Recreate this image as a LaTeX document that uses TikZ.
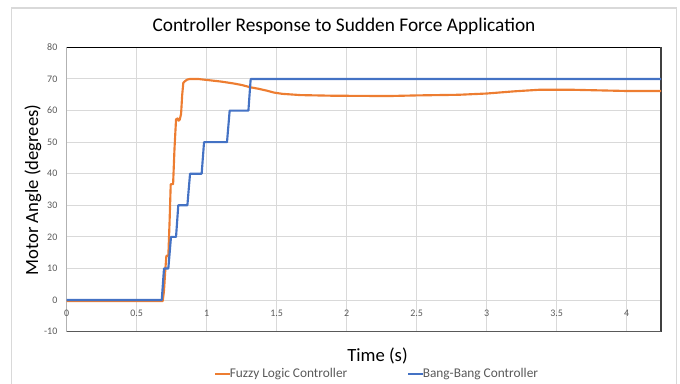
\documentclass[tikz,border=0pt]{standalone}
\usepackage{fontspec}
\setmainfont{Carlito}
\usepackage{tikz}
\definecolor{fuzzyorange}{HTML}{ED7D31}
\definecolor{bangblue}{HTML}{4472C4}
\definecolor{gridgray}{HTML}{D9D9D9}
\definecolor{ticktext}{HTML}{595959}
\definecolor{framegray}{HTML}{D9D9D9}

\begin{document}
\begin{tikzpicture}[x=0.75pt,y=-0.75pt,
  ticklabel/.style={font=\fontsize{7.5}{8}\selectfont,text=ticktext,inner sep=0pt},
  axistitle/.style={font=\fontsize{14}{16}\selectfont,inner sep=0pt},
  legendtext/.style={font=\fontsize{10}{12}\selectfont,text=ticktext,inner sep=0pt,anchor=west},
  fuzzyline/.style={fuzzyorange,line width=1.6pt,line join=round},
  bangline/.style={bangblue,line width=1.6pt,line join=round}]
\useasboundingbox (0,0) rectangle (680,383);
\draw [framegray,line width=0.8pt] (11.5,390) -- (11.5,8) -- (676.5,8) -- (676.5,390);
\node [axistitle,font=\fontsize{14.5}{16}\selectfont] (title) at (344,26) {Controller Response to Sudden Force Application};
\node [axistitle,rotate=90] (ylabel) at (33,190) {Motor Angle (degrees)};
\node [axistitle] (xlabel) at (377.5,356) {Time (s)};
\node [legendtext] (fuzzy) at (229.5,374) {Fuzzy Logic Controller};
\node [legendtext] (bang) at (422.5,374) {Bang-Bang Controller};
\draw [fuzzyorange,line width=1.5pt] (fuzzy.west) -- ++(-14.5,0);
\draw [bangblue,line width=1.5pt] (bang.west) -- ++(-14.5,0);
\begin{scope}[shift={(50.025pt,-225pt)},x=105pt,y=2.368pt]
\foreach \gx in {0.5,1,...,4}
  \draw [gridgray,line width=0.75pt] (\gx,-10) -- (\gx,80);
\foreach \gy in {0,10,...,70}
  \draw [gridgray,line width=0.75pt] (0,\gy) -- (4.245,\gy);
\draw [gray!60,line width=0.75pt] (0,-10) -- (0,80);
\draw [black,line width=0.75pt] (0,80) -- (4.245,80);
\draw [black!75,line width=1pt] (4.245,80) -- (4.245,-10);
\draw [ticktext,line width=1.2pt] (0,-10) -- (4.245,-10);
\foreach \gy in {-10,0,10,...,80}
  \node [ticklabel,anchor=east] (ytick\gy) at (-0.065,\gy) {\gy};
\foreach \gx/\gname in {0/0,0.5/05,1/1,1.5/15,2/2,2.5/25,3/3,3.5/35,4/4}
  \node [ticklabel] (xtick\gname) at (\gx,-4.25) {\gx};
\draw [fuzzyline] (0,-0.3) -- (0.686,-0.3) -- (0.695,3) -- (0.705,10) -- (0.712,14)
  -- (0.726,14) -- (0.735,25) -- (0.743,36.7) -- (0.760,36.7) -- (0.770,48)
  -- (0.781,57.2) -- (0.792,57.5) -- (0.800,56.8) -- (0.808,57.2) -- (0.817,59)
  -- (0.825,65) -- (0.833,68.8) -- (0.845,69.3) -- (0.860,69.8) -- (0.88,70)
  -- (0.94,70) -- (1.0,69.7) -- (1.1,69.2) -- (1.19,68.6) -- (1.25,68.1)
  -- (1.31,67.4) -- (1.37,66.9) -- (1.43,66.3) -- (1.48,65.7) -- (1.54,65.3)
  -- (1.67,64.9) -- (1.9,64.7) -- (2.3,64.6) -- (2.5,64.8) -- (2.8,65.0)
  -- (3.0,65.4) -- (3.2,66.1) -- (3.38,66.6) -- (3.6,66.6) -- (4.0,66.2) -- (4.245,66.2);
\draw [bangline] (0,0) -- (0.679,0) -- (0.695,10) -- (0.726,10) -- (0.745,20)
  -- (0.781,20) -- (0.797,30) -- (0.862,30) -- (0.881,40) -- (0.964,40)
  -- (0.981,50) -- (1.145,50) -- (1.164,60) -- (1.298,60) -- (1.314,70) -- (4.245,70);
\end{scope}
\end{tikzpicture}
\end{document}
